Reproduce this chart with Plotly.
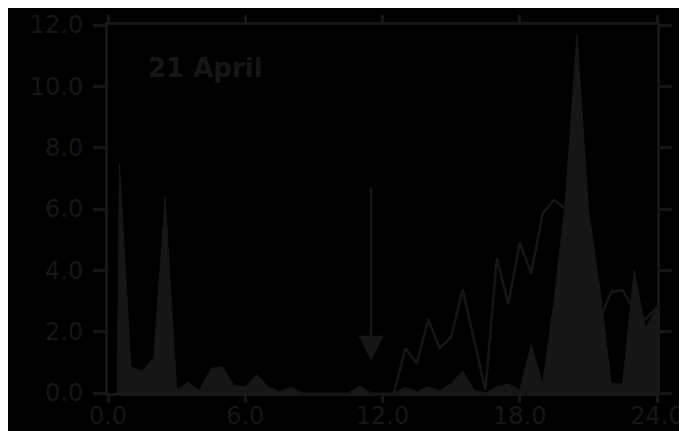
import plotly.graph_objects as go

# ---- data (hours of day, values) ----
fill_hours = [0.4, 0.5, 1.0, 1.5, 2.0, 2.5, 3.0, 3.5, 4.0, 4.5, 5.0, 5.5, 6.0, 6.5,
              7.0, 7.5, 8.0, 8.5, 9.0, 9.5, 10.0, 10.5, 11.0, 11.5, 12.0, 12.5,
              13.0, 13.5, 14.0, 14.5, 15.0, 15.5, 16.0, 16.5, 17.0, 17.5, 18.0,
              18.5, 19.0, 19.5, 20.0, 20.5, 21.0, 21.5, 22.0, 22.5, 23.0, 23.5, 24.0]
fill_values = [0.0, 7.5, 0.85, 0.72, 1.15, 6.4, 0.1, 0.35, 0.08, 0.8, 0.85, 0.25, 0.2, 0.6,
               0.2, 0.05, 0.18, 0.0, 0.0, 0.0, 0.0, 0.0, 0.22, 0.0, 0.0, 0.0,
               0.18, 0.05, 0.2, 0.08, 0.3, 0.72, 0.1, 0.0, 0.2, 0.3, 0.1,
               1.6, 0.3, 3.0, 6.3, 11.7, 6.0, 3.4, 0.3, 0.3, 4.0, 2.1, 2.8]

line_hours = [12.5, 13.0, 13.5, 14.0, 14.5, 15.0, 15.5, 16.0, 16.5, 17.0, 17.5, 18.0,
              18.5, 19.0, 19.5, 20.0, 20.5, 21.0, 21.5, 22.0, 22.5, 23.0, 23.5, 24.0]
line_values = [0.0, 1.45, 0.97, 2.4, 1.46, 1.82, 3.38, 1.75, 0.1, 4.4, 2.9, 4.9,
               3.9, 5.85, 6.3, 6.0, 4.8, 3.6, 2.4, 3.3, 3.35, 2.7, 2.4, 2.8]

x_ticks = [0, 6, 12, 18, 24]
x_tick_labels = ["0.0", "6.0", "12.0", "18.0", "24.0"]
y_ticks = [0, 2, 4, 6, 8, 10, 12]
y_tick_labels = ["0.0", "2.0", "4.0", "6.0", "8.0", "10.0", "12.0"]

title_text = "21 April"
title_pos = (1.65, 10.6)
arrow_tip = (11.5, 1.05)
arrow_tail = (11.5, 6.75)

C = "#161616"
FONT = "DejaVu Sans"

fig = go.Figure()
fig.add_trace(go.Scatter(x=fill_hours, y=fill_values, mode="lines", fill="tozeroy",
                         fillcolor=C, line=dict(color=C, width=1), showlegend=False,
                         hoverinfo="skip"))
fig.add_trace(go.Scatter(x=line_hours, y=line_values, mode="lines",
                         line=dict(color=C, width=2.5), showlegend=False,
                         hoverinfo="skip"))

axis_common = dict(showline=True, linecolor=C, linewidth=3, mirror="allticks",
                   ticks="outside", tickcolor=C, tickwidth=2.5, showgrid=False,
                   zeroline=False, automargin=False,
                   tickfont=dict(family=FONT, size=24, color=C))

fig.update_xaxes(range=[0, 24], tickvals=x_ticks, ticktext=x_tick_labels, ticklen=7,
                 ticklabelstandoff=-8, **axis_common)
fig.update_yaxes(range=[0, 12], tickvals=y_ticks, ticktext=y_tick_labels, ticklen=12,
                 ticklabelstandoff=5, **axis_common)

fig.add_annotation(x=title_pos[0], y=title_pos[1], text="<b>" + title_text + "</b>",
                   showarrow=False, xanchor="left", yanchor="middle",
                   font=dict(family=FONT, size=26, color=C))
fig.add_annotation(x=arrow_tip[0], y=arrow_tip[1], ax=arrow_tail[0], ay=arrow_tail[1],
                   axref="x", ayref="y", text="", showarrow=True, arrowhead=2,
                   arrowsize=2.0, arrowwidth=2.5, arrowcolor=C)

# page body has an 8px default margin, so the figure is sized to fit the window
fig.update_layout(width=679, height=423, paper_bgcolor="black", plot_bgcolor="black",
                  margin=dict(l=100, r=30, t=17, b=38), template="none",
                  showlegend=False)

fig.write_html("out.html")
